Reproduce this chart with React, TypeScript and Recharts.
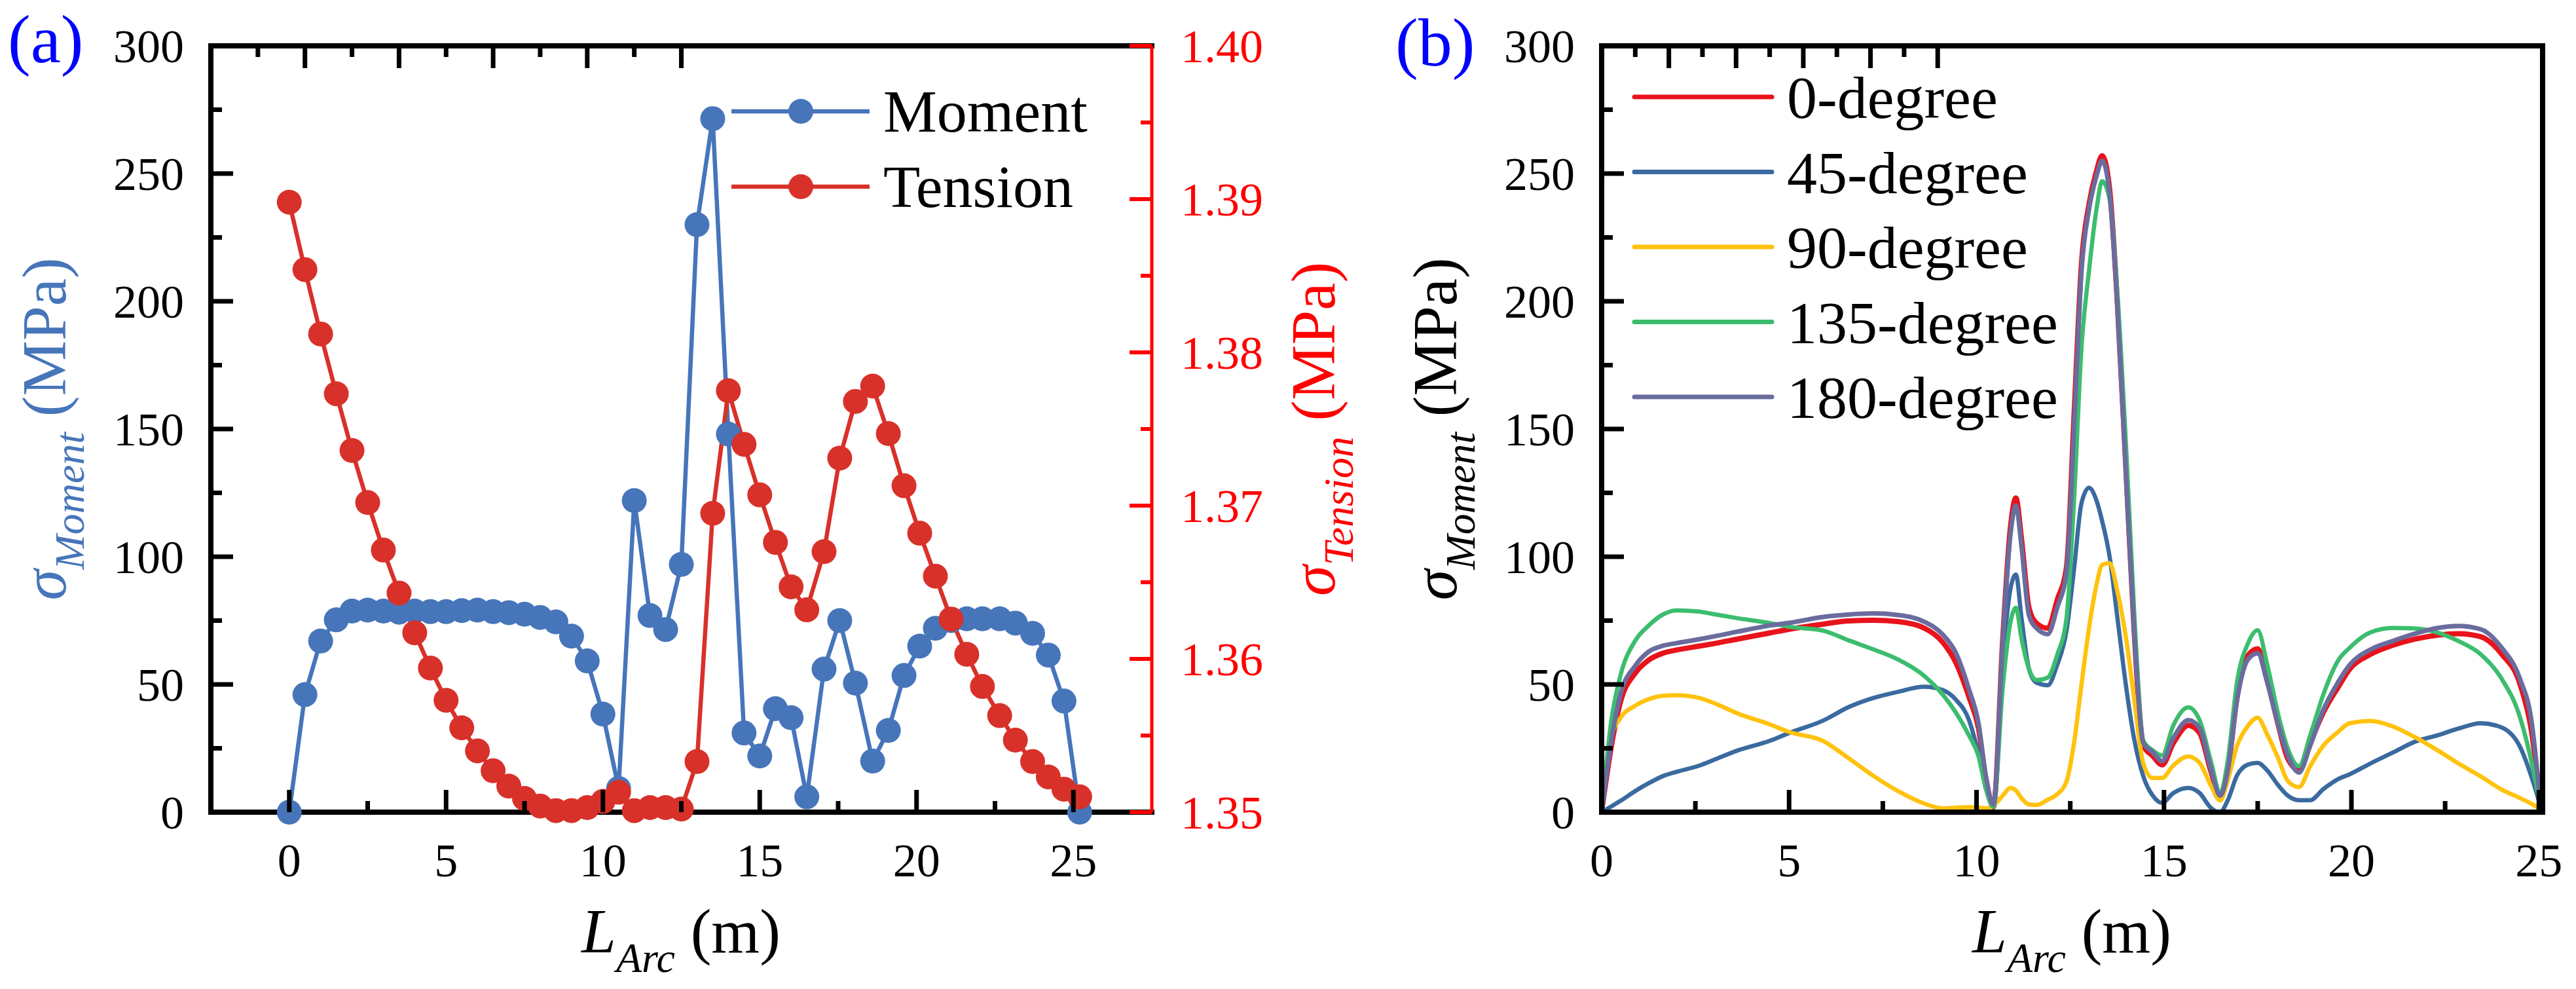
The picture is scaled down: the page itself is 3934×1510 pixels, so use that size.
import React from 'react';
import { LineChart, Line, XAxis, YAxis, Legend } from 'recharts';

const FONT = 'Liberation Serif, Times New Roman, Times, serif';

// ---------------- Panel (a) data ----------------
const arcA = [0, 0.5, 1, 1.5, 2, 2.5, 3, 3.5, 4, 4.5, 5, 5.5, 6, 6.5, 7, 7.5, 8, 8.5, 9, 9.5, 10, 10.5, 11, 11.5, 12, 12.5, 13, 13.5, 14, 14.5, 15, 15.5, 16, 16.5, 17.05, 17.55, 18.05, 18.6, 19.1, 19.6, 20.1, 20.6, 21.1, 21.6, 22.1, 22.65, 23.15, 23.7, 24.2, 24.7, 25.2];
const momentA = [0, 46, 67, 75.3, 78.7, 79.1, 78.7, 78.3, 78.7, 78.5, 78.5, 78.9, 79.1, 78.5, 78.1, 77.5, 76.2, 74.5, 68.9, 59.2, 38.4, 9.3, 122, 77, 71.5, 97, 230, 271.5, 148, 31, 22, 40.5, 37, 6, 56, 75, 50.5, 20, 32, 53.5, 65, 72, 75, 75.7, 75.7, 75.7, 74, 70, 61.5, 43.5, 0];
const tensionA = [1.3898, 1.3854, 1.3812, 1.3773, 1.3736, 1.3702, 1.3671, 1.3643, 1.3617, 1.3594, 1.3573, 1.3555, 1.354, 1.3527, 1.3517, 1.3509, 1.3504, 1.3501, 1.3501, 1.3503, 1.3507, 1.3513, 1.3501, 1.3503, 1.3503, 1.3502, 1.3533, 1.3695, 1.3775, 1.374, 1.3707, 1.3676, 1.3647, 1.3632, 1.367, 1.3731, 1.3768, 1.3778, 1.3747, 1.3713, 1.3682, 1.3654, 1.3626, 1.3603, 1.3582, 1.3563, 1.3547, 1.3533, 1.3523, 1.3515, 1.351];

// ---------------- Panel (b) data ----------------
const arcB = [0, 0.25, 0.5, 0.9, 1.25, 1.65, 2.0, 2.6, 3.0, 3.6, 4.5, 5.0, 5.9, 6.6, 7.25, 7.9, 8.6, 9.1, 9.45, 9.8, 10.05, 10.25, 10.45, 10.7, 10.9, 11.05, 11.2, 11.4, 11.6, 11.9, 12.15, 12.4, 12.6, 12.8, 13.0, 13.2, 13.35, 13.55, 13.75, 14.0, 14.2, 14.45, 14.7, 14.95, 15.25, 15.65, 15.95, 16.25, 16.5, 16.7, 16.95, 17.25, 17.5, 17.75, 18.05, 18.3, 18.6, 18.9, 19.25, 19.65, 19.95, 20.5, 21.1, 21.7, 22.3, 22.85, 23.45, 24.0, 24.5, 24.8, 25.05];
const deg0 = [0, 25, 43, 54.5, 59.5, 62.3, 63.5, 65, 66, 67.7, 70.2, 71.6, 73.6, 74.9, 75.1, 74.6, 72.1, 66.5, 58.5, 45, 33, 13, 2, 68, 111, 123, 107, 80, 74, 72, 83, 96, 155, 215, 238, 251, 257, 244, 201, 130, 72, 26, 22, 18.5, 27, 34, 31, 16, 6, 16, 45, 61.5, 64, 52, 34, 21, 16.5, 27, 39, 49, 55.9, 61.7, 65.3, 67.8, 69.3, 69.9, 68.7, 62, 50, 32, 2];
const deg45 = [0, 2.2, 4.4, 8.3, 11.3, 14.2, 15.8, 18.2, 20.5, 24, 28, 31, 35.8, 41.2, 44.7, 47.1, 49.1, 47.8, 44, 36, 23, 10, 2.6, 59, 87, 93, 76, 56, 50.7, 49.7, 57.6, 71, 95, 121, 127, 122, 114, 100, 77, 48, 29, 14, 6.5, 3.6, 7.5, 9.5, 7.5, 1.7, 0, 4.6, 14.4, 18.7, 19.3, 16.4, 10.5, 6.5, 4.7, 4.7, 9, 13, 14.8, 19, 23.3, 27.6, 30.1, 32.7, 34.8, 33.2, 25.5, 14, 2];
const deg90 = [0, 29, 36.8, 41.7, 44.2, 45.6, 45.8, 44.7, 42.7, 38.8, 34.3, 31.4, 27.9, 21, 14.2, 8.3, 3.4, 1.5, 1.7, 2, 1.8, 1.5, 2.6, 6.5, 9.5, 8.5, 5.5, 3, 2.8, 4.9, 7, 12, 27, 50, 72, 89, 96.8, 97.5, 87, 67, 45, 19, 13.4, 13.4, 18.3, 21.8, 19.3, 10.5, 4.6, 12.4, 26, 34, 37, 30.5, 21, 12.3, 9.8, 18, 26, 31.5, 34.8, 35.7, 33.6, 29.3, 24.2, 19.1, 14, 8.9, 5.5, 3.3, 1.1];
const deg135 = [0, 35, 53.4, 67.2, 73, 77.5, 79, 78.5, 77.5, 76, 74, 72.6, 71.1, 67.2, 63.7, 59.8, 53.4, 46, 39, 30, 22, 9, 2, 49, 74, 80, 68, 56, 51.7, 52.7, 61.5, 76, 122, 182, 212, 236, 247, 240, 205, 140, 80, 28, 24.2, 22.2, 34, 41, 36, 20, 7.5, 20, 51, 66.4, 71.2, 58, 38, 25, 18, 30, 46, 59.5, 64.3, 70.3, 72.1, 71.9, 70.3, 67, 61.8, 52.4, 37, 20, 2];
const deg180 = [0, 27, 46, 57.4, 62.8, 65.2, 66.2, 67.7, 68.8, 70.6, 73.1, 74.1, 76.4, 77.4, 77.8, 77.2, 74.6, 69.5, 62.3, 48, 35, 14, 3, 67, 108, 120, 104, 77, 72, 69.7, 80, 94, 150, 212, 236, 249, 255, 242, 200, 128, 72, 27, 23.5, 20, 29, 36, 33, 17, 6.5, 16, 44, 60, 62.2, 51, 34, 22.4, 15.5, 26, 40, 51, 57.6, 63.6, 67, 69.9, 72.1, 72.9, 71.6, 64.5, 52, 36, 2];

// ---------------- ticks / series names ----------------
const arcTicks = [0, 2.5, 5, 7.5, 10, 12.5, 15, 17.5, 20, 22.5, 25];
const momentTicks = [0, 25, 50, 75, 100, 125, 150, 175, 200, 225, 250, 275, 300];
const tensionTicks = [1.35, 1.355, 1.36, 1.365, 1.37, 1.375, 1.38, 1.385, 1.39, 1.395, 1.4];
const seriesA = ['Moment', 'Tension'];
const seriesB = ['0-degree', '45-degree', '90-degree', '135-degree', '180-degree'];

const dataA = arcA.map((x, i) => ({ x, moment: momentA[i], tension: tensionA[i] }));
const dataB = arcB.map((x, i) => ({ x, d0: deg0[i], d45: deg45[i], d90: deg90[i], d135: deg135[i], d180: deg180[i] }));

const BLUE_A = '#4675BA';
const RED_A = '#D8312A';
const COLORS_A = [BLUE_A, RED_A];
const COLORS_B = ['#E8131B', '#3A6A9F', '#FFC20E', '#3CBD6E', '#6A6C9E'];
const WIDTHS_B = [8, 6.5, 6.5, 6.5, 7];
const KEYS_B = ['d0', 'd45', 'd90', 'd135', 'd180'];

const MAJOR_LEN = 34;
const MINOR_LEN = 17;
const AXIS = { stroke: '#000', strokeWidth: 8, strokeLinecap: 'square' as const };
const serif = (size: number, extra: any = {}) => ({ fontFamily: FONT, fontSize: size, ...extra });

type Side = 'bottom' | 'top' | 'left' | 'right';
function makeTick(side: Side, step: number, opts: { fmt?: (v: number) => string; color?: string; sw?: number } = {}) {
  const color = opts.color ?? '#000';
  const sw = opts.sw ?? 7;
  return (p: any) => {
    const x = Number(p.x);
    const y = Number(p.y);
    const v = Number(p.payload?.value);
    const r = v / step;
    const major = Math.abs(r - Math.round(r)) < 1e-6;
    const len = major ? MAJOR_LEN : MINOR_LEN;
    const st = serif(72);
    let line: any = null;
    let label: any = null;
    if (side === 'bottom') {
      line = <line x1={x} x2={x} y1={y} y2={y - len} stroke={color} strokeWidth={sw} />;
      if (major && opts.fmt) label = <text x={x} y={y + 98} textAnchor="middle" fill={color} style={st}>{opts.fmt(v)}</text>;
    } else if (side === 'top') {
      line = <line x1={x} x2={x} y1={y} y2={y + len} stroke={color} strokeWidth={sw} />;
    } else if (side === 'left') {
      line = <line x1={x} x2={x + len} y1={y} y2={y} stroke={color} strokeWidth={sw} />;
      if (major && opts.fmt) label = <text x={x - 41} y={y + 25} textAnchor="end" fill={color} style={st}>{opts.fmt(v)}</text>;
    } else {
      line = <line x1={x} x2={x - len} y1={y} y2={y} stroke={color} strokeWidth={sw} />;
      if (major && opts.fmt) label = <text x={x + 44} y={y + 25} textAnchor="start" fill={color} style={st}>{opts.fmt(v)}</text>;
    }
    return <g>{line}{label}</g>;
  };
}

const fmtInt = (v: number) => String(v);
const fmt2 = (v: number) => v.toFixed(2);

function VTitle({ x, y, color, sub }: { x: number; y: number; color: string; sub: string }) {
  return (
    <text transform={`rotate(-90 ${x} ${y})`} x={x} y={y} textAnchor="middle" fill={color} style={serif(95)}>
      <tspan style={{ fontStyle: 'italic' }}>σ</tspan>
      <tspan style={{ fontStyle: 'italic', fontSize: 64 }} dy={28}>{sub}</tspan>
      <tspan dy={-28}>{'\u00A0(MPa)'}</tspan>
    </text>
  );
}

function XTitle({ x, y }: { x: number; y: number }) {
  return (
    <text x={x} y={y} textAnchor="middle" fill="#000" style={serif(95)}>
      <tspan style={{ fontStyle: 'italic' }}>L</tspan>
      <tspan style={{ fontStyle: 'italic', fontSize: 64 }} dy={30}>Arc</tspan>
      <tspan dy={-30}>{'\u00A0(m)'}</tspan>
    </text>
  );
}

const legendA = () => (
  <svg width={700} height={260} style={{ overflow: 'visible', display: 'block' }}>
    {seriesA.map((name, i) => {
      const cy = 70 + i * 115;
      return (
        <g key={name}>
          <line x1={27} x2={238} y1={cy} y2={cy} stroke={COLORS_A[i]} strokeWidth={6.5} />
          <circle cx={133} cy={cy} r={19} fill={COLORS_A[i]} />
          <text x={259} y={cy + 31} fill="#000" style={serif(92)}>{name}</text>
        </g>
      );
    })}
  </svg>
);

const legendB = () => (
  <svg width={800} height={640} style={{ overflow: 'visible', display: 'block' }}>
    {seriesB.map((name, i) => {
      const cy = 48 + i * 114.5;
      return (
        <g key={name}>
          <line x1={26} x2={236} y1={cy} y2={cy} stroke={COLORS_B[i]} strokeWidth={7} strokeLinecap="round" />
          <text x={259} y={cy + 32} fill="#000" style={serif(92)}>{name}</text>
        </g>
      );
    })}
  </svg>
);

function PanelA() {
  return (
    <LineChart width={2100} height={1510} data={dataA} margin={{ top: 40, right: 0, bottom: 0, left: 0 }}>
      <XAxis dataKey="x" type="number" domain={[-2.5, 27.5]} ticks={arcTicks} interval={0} height={270}
        tickSize={0} tickMargin={0} tickLine={false} axisLine={AXIS} tick={makeTick('bottom', 5, { fmt: fmtInt })}
        label={() => <XTitle x={1040} y={1454} />} />
      <XAxis xAxisId="top" orientation="top" type="number" domain={[-2.5, 27.5]} ticks={arcTicks} interval={0} height={30}
        tickSize={0} tickMargin={0} tickLine={false} axisLine={AXIS} tick={makeTick('top', 5)} />
      <YAxis yAxisId="m" type="number" domain={[0, 300]} ticks={momentTicks} interval={0} width={322}
        tickSize={0} tickMargin={0} tickLine={false} axisLine={AXIS} tick={makeTick('left', 50, { fmt: fmtInt })}
        label={() => (
          <g>
            <text x={12} y={95} fill="#0000FF" style={serif(104)}>(a)</text>
            <VTitle x={100} y={655} color={BLUE_A} sub="Moment" />
          </g>
        )} />
      <YAxis yAxisId="t" orientation="right" type="number" domain={[1.35, 1.4]} ticks={tensionTicks} interval={0} width={341}
        tickSize={0} tickMargin={0} tickLine={false} axisLine={{ stroke: '#FF0000', strokeWidth: 5 }}
        tick={makeTick('right', 0.01, { fmt: fmt2, color: '#FF0000', sw: 6 })}
        label={() => <VTitle x={2038} y={655} color="#FF0000" sub="Tension" />} />
      <Legend layout="vertical" align="center" verticalAlign="middle" content={legendA}
        wrapperStyle={{ left: 1090, top: 100, width: 700, height: 260, right: 'auto', bottom: 'auto' }} />
      <Line yAxisId="m" dataKey="moment" name={seriesA[0]} type="linear" stroke={BLUE_A} strokeWidth={6.5}
        dot={{ r: 19, fill: BLUE_A, stroke: BLUE_A, strokeWidth: 0 }} activeDot={false} isAnimationActive={false} />
      <Line yAxisId="t" dataKey="tension" name={seriesA[1]} type="linear" stroke={RED_A} strokeWidth={6.5}
        dot={{ r: 19, fill: RED_A, stroke: RED_A, strokeWidth: 0 }} activeDot={false} isAnimationActive={false} />
    </LineChart>
  );
}

function PanelB() {
  return (
    <LineChart width={1834} height={1510} data={dataB} margin={{ top: 40, right: 0, bottom: 0, left: 0 }}>
      <XAxis dataKey="x" type="number" domain={[0, 25.1]} ticks={arcTicks} interval={0} height={270}
        tickSize={0} tickMargin={0} tickLine={false} axisLine={AXIS} tick={makeTick('bottom', 5, { fmt: fmtInt })}
        label={() => <XTitle x={1064} y={1454} />} />
      <XAxis xAxisId="top" orientation="top" type="number" domain={[0, 25.1]} ticks={arcTicks} interval={0} height={30}
        tickSize={0} tickMargin={0} tickLine={false} axisLine={AXIS} tick={makeTick('top', 5)} />
      <YAxis yAxisId="m" type="number" domain={[0, 300]} ticks={momentTicks} interval={0} width={346}
        tickSize={0} tickMargin={0} tickLine={false} axisLine={AXIS} tick={makeTick('left', 50, { fmt: fmtInt })}
        label={() => (
          <g>
            <text x={31} y={100} fill="#0000FF" style={serif(104)}>(b)</text>
            <VTitle x={124} y={655} color="#000" sub="Moment" />
          </g>
        )} />
      <YAxis yAxisId="r" orientation="right" type="number" domain={[0, 300]} ticks={momentTicks} interval={0} width={51}
        tickSize={0} tickMargin={0} tickLine={false} axisLine={AXIS} tick={makeTick('right', 50)} />
      <Legend layout="vertical" align="center" verticalAlign="middle" content={legendB}
        wrapperStyle={{ left: 370, top: 100, width: 800, height: 640, right: 'auto', bottom: 'auto' }} />
      {KEYS_B.map((k, i) => (
        <Line key={k} yAxisId="m" dataKey={k} name={seriesB[i]} type="monotone" stroke={COLORS_B[i]}
          strokeWidth={WIDTHS_B[i]} dot={false} activeDot={false} isAnimationActive={false} />
      ))}
    </LineChart>
  );
}

export default function App() {
  return (
    <div style={{ position: 'absolute', left: 0, top: 0, width: 3934, height: 1510, background: '#fff', overflow: 'hidden', fontFamily: FONT }}>
      <div style={{ position: 'absolute', left: 0, top: 0 }}>
        <PanelA />
      </div>
      <div style={{ position: 'absolute', left: 2100, top: 0 }}>
        <PanelB />
      </div>
    </div>
  );
}
